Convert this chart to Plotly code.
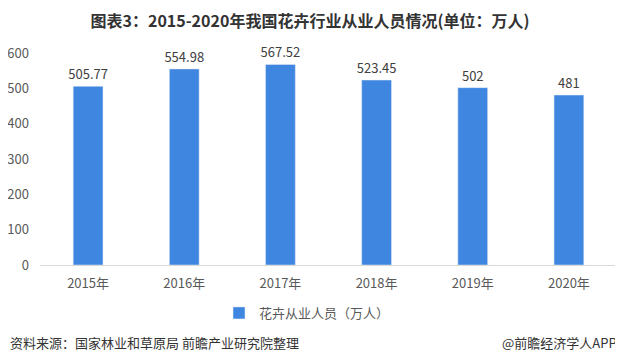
import plotly.graph_objects as go

years = ["2015年", "2016年", "2017年", "2018年", "2019年", "2020年"]
values = [505.77, 554.98, 567.52, 523.45, 502, 481]
labels = ["505.77", "554.98", "567.52", "523.45", "502", "481"]
y_ticks = [0, 100, 200, 300, 400, 500, 600]

font_fam = "Noto Sans CJK SC, Noto Sans, sans-serif"

W, H = 615, 355
L, R, T, B = 32, 6, 45, 98
pw, ph = W - L - R, H - T - B

fig = go.Figure()
fig.add_trace(go.Bar(
    x=years, y=values, name="花卉从业人员（万人）",
    marker_color="#3f86e0", text=labels, textposition="outside",
    textfont=dict(size=13, color="#404040"), cliponaxis=False,
    constraintext="none",
))
fig.update_layout(
    width=W, height=H,
    margin=dict(l=L, r=R, t=T, b=B, autoexpand=False),
    paper_bgcolor="white", plot_bgcolor="white",
    font=dict(family=font_fam, color="#595959", size=13),
    title=dict(text="<b>图表3：2015-2020年我国花卉行业从业人员情况(单位：万人)</b>",
               x=302 / W, xanchor="center", y=1 - 13 / H, yanchor="middle",
               font=dict(size=16, color="#333333")),
    bargap=0.69,
    showlegend=True,
    legend=dict(orientation="h", x=(211 - L) / pw, xanchor="left",
                y=(ph - (305 - T)) / ph, yanchor="middle",
                font=dict(size=13, color="#595959"), itemwidth=30),
    xaxis=dict(showline=True, linecolor="#d9d9d9", ticks="", ticklabelstandoff=6,
               automargin=False, tickfont=dict(size=13, color="#595959")),
    yaxis=dict(range=[0, 600], tickvals=y_ticks, showgrid=False, zeroline=False,
               showline=False, ticklabelstandoff=10, automargin=False,
               tickfont=dict(size=13, color="#595959")),
)
fig.add_annotation(text="资料来源：国家林业和草原局 前瞻产业研究院整理", xref="paper", yref="paper",
                   x=(0 - L) / pw, xanchor="left", y=(ph - (334 - T)) / ph, yanchor="middle",
                   showarrow=False, font=dict(size=13, color="#333333"))
fig.add_annotation(text="@前瞻经济学人APP", xref="paper", yref="paper",
                   x=(611 - L) / pw, xanchor="right", y=(ph - (334 - T)) / ph, yanchor="middle",
                   showarrow=False, font=dict(size=13, color="#333333"))
fig.write_html("out.html")
